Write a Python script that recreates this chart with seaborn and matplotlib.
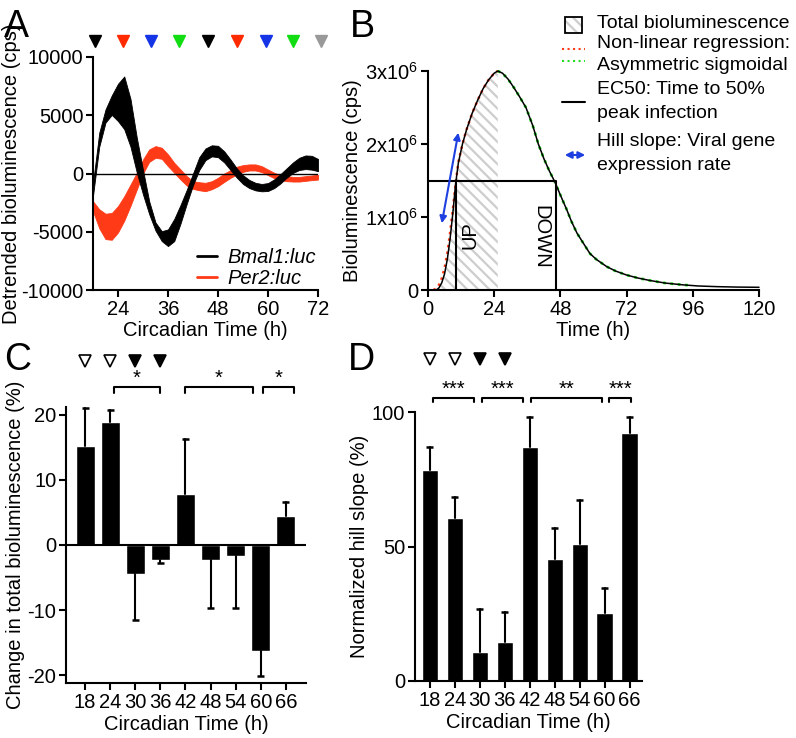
#!/usr/bin/env python3
"""Circadian bioluminescence figure (panels A-D) redrawn with matplotlib + seaborn."""

import matplotlib

matplotlib.use("Agg")
import matplotlib.pyplot as plt
import seaborn as sns
from matplotlib.lines import Line2D
from matplotlib.patches import FancyArrowPatch, Rectangle

# ---- Panel A: detrended bioluminescence, upper / lower edge of each band ----
A_TIME = [18, 19.5, 21, 22.5, 24, 25.5, 27, 28.5, 30, 31.5, 33, 34.5, 36, 37.5, 39,
          40.5, 42, 43.5, 45, 46.5, 48, 49.5, 51, 52.5, 54, 55.5, 57, 58.5, 60,
          61.5, 63, 64.5, 66, 67.5, 69, 70.5, 72]
BMAL_HI = [-800, 3500, 5500, 6700, 7700, 8330, 6400, 3100, 300, -2400, -4200, -4950,
           -4800, -3900, -2700, -1400, 0, 1400, 2150, 2420, 2380, 1900, 1200, 450,
           -150, -550, -800, -900, -820, -500, -50, 450, 950, 1350, 1550, 1520, 1250]
BMAL_LO = [-1900, 2300, 4370, 5030, 4500, 3800, 2300, 100, -1800, -3500, -4900, -5800,
           -6230, -5800, -4300, -2600, -1000, 300, 1150, 1470, 1400, 950, 300, -350,
           -900, -1250, -1450, -1530, -1500, -1250, -850, -350, 50, 300, 380, 330, 200]
PER_HI = [-2380, -3070, -3450, -3390, -2800, -1950, -950, 60, 1200, 2070, 2350, 2210,
          1640, 920, 350, -230, -660, -750, -800, -660, -370, 0, 290, 580, 720, 780,
          780, 630, 340, 60, -140, -230, -290, -290, -230, -170, -110]
PER_LO = [-3250, -4700, -5630, -5690, -5060, -4050, -2770, -1380, 0, 1000, 1350, 1260,
          630, 60, -520, -1030, -1320, -1440, -1520, -1350, -1090, -720, -370, -90,
          140, 260, 260, 120, -140, -400, -570, -660, -690, -690, -630, -570, -520]
MARKER_TIMES = [18.5, 25.2, 32.0, 38.7, 45.6, 52.6, 59.4, 66.1, 72.8]
MARKER_COLORS = ["black", "#ff2a00", "#1434e6", "#12dd12", "black",
                 "#ff2a00", "#1434e6", "#12dd12", "#999999"]

# ---- Panel B: infection time course with asymmetric sigmoidal fits ----
CURVE_T = [3, 4, 5, 6, 7, 8, 9, 10, 11, 12.5, 14, 16, 18, 20, 22, 24, 25.3, 27, 29,
           31, 33, 35.5, 38, 40, 42, 44, 46, 48, 50.3, 52, 54, 56, 58.7, 61, 64.8,
           68, 72, 76, 80.5, 86, 92.6, 98, 104.7, 112, 120]
CURVE_V = [0, 0.03e6, 0.1e6, 0.22e6, 0.42e6, 0.7e6, 1.05e6, 1.45e6, 1.74e6, 2.0e6,
           2.2e6, 2.42e6, 2.6e6, 2.76e6, 2.88e6, 2.97e6, 3.0e6, 2.97e6, 2.89e6,
           2.78e6, 2.66e6, 2.5e6, 2.25e6, 2.0e6, 1.8e6, 1.63e6, 1.48e6, 1.3e6, 1.1e6,
           0.94e6, 0.78e6, 0.66e6, 0.5e6, 0.42e6, 0.32e6, 0.26e6, 0.205e6, 0.165e6,
           0.13e6, 0.095e6, 0.07e6, 0.055e6, 0.046e6, 0.04e6, 0.037e6]
FIT_UP_T = [2, 3, 4, 5, 6, 7, 8, 9, 10, 11, 12.5, 14, 16, 18, 20, 22, 24, 25.3]
FIT_UP_V = [0, 0.02e6, 0.07e6, 0.16e6, 0.3e6, 0.5e6, 0.78e6, 1.1e6, 1.45e6, 1.75e6,
            2.0e6, 2.2e6, 2.42e6, 2.6e6, 2.76e6, 2.88e6, 2.97e6, 3.0e6]
FIT_DOWN_T = [25.3, 27, 29, 31, 33, 35.5, 38, 40, 42, 44, 46, 48, 50.3, 52, 54, 56,
              58.7, 61, 64.8, 68, 72, 76, 80.5, 86, 92.6, 95]
FIT_DOWN_V = [3.0e6, 2.97e6, 2.89e6, 2.78e6, 2.66e6, 2.5e6, 2.25e6, 2.0e6, 1.8e6,
              1.63e6, 1.48e6, 1.3e6, 1.1e6, 0.94e6, 0.78e6, 0.66e6, 0.5e6, 0.42e6,
              0.32e6, 0.26e6, 0.205e6, 0.165e6, 0.13e6, 0.095e6, 0.07e6, 0.064e6]
PEAK_T = 25.3
HALF_MAX = 1.5e6
EC50_UP = 10.1
EC50_DOWN = 46.4
HILL_ARROW = [(5.0, 0.914e6), (11.0, 2.155e6)]

# ---- Panels C and D ----
CT_LABELS = ["18", "24", "30", "36", "42", "48", "54", "60", "66"]
C_VALUES = [15.2, 18.9, -4.5, -2.3, 7.8, -2.3, -1.7, -16.3, 4.5]
C_ERRORS = [5.9, 1.9, 7.0, 0.5, 8.5, 7.4, 8.0, 3.9, 2.1]
D_VALUES = [78.4, 60.6, 10.8, 14.5, 87.0, 45.3, 50.9, 25.2, 92.2]
D_ERRORS = [8.6, 7.8, 15.9, 11.3, 11.0, 11.7, 16.4, 9.4, 5.8]
TRIANGLE_FILLED = [False, False, True, True]
C_BRACKETS = [(1.15, 2.98, "*"), (3.97, 6.67, "*"), (7.07, 8.33, "*")]
D_BRACKETS = [(0.12, 1.77, "***"), (2.09, 3.73, "***"), (4.06, 6.9, "**"),
              (7.19, 8.07, "***")]

RED = "#ff3a17"
BLUE = "#1f40e0"
GREEN = "#22dd22"
HATCH_GRAY = "#cdcdcd"
FS = 14.5

W, H = 796, 738


def fx(px):
    return px / W


def fy(py):
    return 1 - py / H


def box(left, top, right, bottom):
    return [fx(left), fy(bottom), (right - left) / W, (bottom - top) / H]


sns.set_theme(style="ticks")
plt.rcParams.update(
    {
        "font.family": ["Liberation Sans", "DejaVu Sans"],
        "font.size": FS,
        "axes.labelsize": FS,
        "xtick.labelsize": FS,
        "ytick.labelsize": FS,
        "axes.linewidth": 1.5,
        "axes.edgecolor": "black",
        "axes.labelcolor": "black",
        "text.color": "black",
        "xtick.color": "black",
        "ytick.color": "black",
        "xtick.major.width": 1.5,
        "ytick.major.width": 1.5,
        "xtick.major.size": 5,
        "ytick.major.size": 5,
        "xtick.major.pad": 2,
        "ytick.major.pad": 2,
        "axes.labelpad": 2,
        "axes.unicode_minus": False,
        "mathtext.default": "regular",
        "hatch.linewidth": 1.6,
    }
)

fig = plt.figure(figsize=(W / 100, H / 100), dpi=100)

# ---------------- Panel A ----------------
ax_a = fig.add_axes(box(93, 57, 318, 290))
ax_a.fill_between(A_TIME, PER_LO, PER_HI, color=RED, lw=0.6)
ax_a.fill_between(A_TIME, BMAL_LO, BMAL_HI, color="black", lw=0.6)
ax_a.axhline(0, color="black", lw=1, zorder=3)
ax_a.set_xlim(18, 72)
ax_a.set_ylim(-10000, 10000)
ax_a.set_xticks([24, 36, 48, 60, 72])
ax_a.set_yticks([-10000, -5000, 0, 5000, 10000])
ax_a.set_xlabel("Circadian Time (h)")
ax_a.set_ylabel("Detrended bioluminescence (cps)", labelpad=0)
sns.despine(ax=ax_a)
for t, c in zip(MARKER_TIMES, MARKER_COLORS):
    ax_a.plot(t, 11400, marker="v", ms=8.5, color=c, clip_on=False, ls="none")
ax_a.legend(
    handles=[Line2D([], [], color="black", lw=2), Line2D([], [], color=RED, lw=2)],
    labels=["Bmal1:luc", "Per2:luc"],
    prop={"style": "italic", "size": FS},
    frameon=False,
    loc="lower right",
    handlelength=1.0,
    handletextpad=0.5,
    labelspacing=0.1,
    borderaxespad=0.1,
    borderpad=0,
)

# ---------------- Panel B ----------------
ax_b = fig.add_axes(box(428, 71, 759, 290))
up_t = [t for t in CURVE_T if t <= PEAK_T]
up_v = [v for t, v in zip(CURVE_T, CURVE_V) if t <= PEAK_T]
ax_b.fill_between(up_t, 0, up_v, facecolor="white", edgecolor=HATCH_GRAY,
                  hatch="\\\\\\", linewidth=0)
sns.lineplot(x=FIT_UP_T, y=FIT_UP_V, ax=ax_b, color=RED, lw=1.8, linestyle=":",
             clip_on=False)
sns.lineplot(x=FIT_DOWN_T, y=FIT_DOWN_V, ax=ax_b, color=GREEN, lw=2.0, linestyle=":",
             clip_on=False)
sns.lineplot(x=CURVE_T, y=CURVE_V, ax=ax_b, color="black", lw=1.1, clip_on=False)
ax_b.plot([0, EC50_DOWN], [HALF_MAX, HALF_MAX], color="black", lw=1.5)
ax_b.vlines([EC50_UP, EC50_DOWN], 0, HALF_MAX, color="black", lw=1.5)
ax_b.annotate(
    "", xy=HILL_ARROW[1], xytext=HILL_ARROW[0],
    arrowprops=dict(arrowstyle="<|-|>", color=BLUE, lw=1.5, mutation_scale=10,
                    shrinkA=0, shrinkB=0),
)
ax_b.text(15.2, 0.75e6, "UP", rotation=90, ha="center", va="center")
ax_b.text(40.8, 0.73e6, "DOWN", rotation=270, ha="center", va="center")
ax_b.set_xlim(0, 120)
ax_b.set_ylim(0, 3e6)
ax_b.set_xticks([0, 24, 48, 72, 96, 120])
ax_b.set_yticks([0, 1e6, 2e6, 3e6])
ax_b.set_yticklabels(["0", "1x10$^{6}$", "2x10$^{6}$", "3x10$^{6}$"])
ax_b.set_xlabel("Time (h)")
ax_b.set_ylabel("Bioluminescence (cps)")
sns.despine(ax=ax_b)

# legend for B, drawn by hand
sq = [fx(565), fy(33)]
fig.add_artist(Rectangle(sq, 17 / W, 16 / H, transform=fig.transFigure,
                         facecolor="white", edgecolor=HATCH_GRAY, lw=0, hatch="\\\\\\"))
fig.add_artist(Rectangle(sq, 17 / W, 16 / H, transform=fig.transFigure,
                         facecolor="none", edgecolor="black", lw=1.3))
fig.add_artist(Line2D([fx(562), fx(585)], [fy(49), fy(49)], color=RED, lw=1.5, ls=":"))
fig.add_artist(Line2D([fx(562), fx(585)], [fy(61), fy(61)], color=GREEN, lw=1.5, ls=":"))
fig.add_artist(Line2D([fx(562), fx(585)], [fy(102), fy(102)], color="black", lw=1.5))
fig.add_artist(FancyArrowPatch(
    (fx(562), fy(155)), (fx(588), fy(155)), transform=fig.transFigure,
    arrowstyle="<|-|>", color=BLUE, lw=1.5, mutation_scale=10))
for ypx, txt in [(24, "Total bioluminescence"), (43, "Non-linear regression:"),
                 (66, "Asymmetric sigmoidal"), (89, "EC50: Time to 50%"),
                 (113, "peak infection"), (142, "Hill slope: Viral gene"),
                 (165, "expression rate")]:
    fig.text(fx(597), fy(ypx), txt, ha="left", va="center", fontsize=14)


def bar_panel(ax, values, errors, width, brackets, bracket_y, tick_y, star_y, tri_y):
    sns.barplot(x=CT_LABELS, y=values, order=CT_LABELS, color="black", width=width,
                saturation=1, errorbar=None, ax=ax)
    # one-sided error bars pointing away from zero
    cap = 0.14
    for i, (v, e) in enumerate(zip(values, errors)):
        end = v + e if v >= 0 else v - e
        ax.plot([i, i], [v, end], color="black", lw=1.5, clip_on=False)
        ax.plot([i - cap, i + cap], [end, end], color="black", lw=1.8, clip_on=False,
                solid_capstyle="butt")
    for x0, x1, stars in brackets:
        ax.plot([x0, x0, x1, x1], [tick_y, bracket_y, bracket_y, tick_y],
                color="black", lw=1.5, clip_on=False)
        ax.text((x0 + x1) / 2, star_y, stars, ha="center", va="center", fontsize=FS)
    for i, filled in enumerate(TRIANGLE_FILLED):
        ax.plot(i, tri_y, marker="v", ms=8.5, mec="black", mew=1.2,
                mfc="black" if filled else "white", clip_on=False, ls="none")
    ax.set_xlabel("Circadian Time (h)")
    sns.despine(ax=ax)


# ---------------- Panel C ----------------
ax_c = fig.add_axes(box(66, 407, 306, 683))
bar_panel(ax_c, C_VALUES, C_ERRORS, 0.76, C_BRACKETS, 24.2, 23.4, 25.6, 28.2)
ax_c.axhline(0, color="black", lw=1.5)
ax_c.set_xlim(-0.76, 8.8)
ax_c.set_ylim(-21.2, 21.2)
ax_c.set_yticks([-20, -10, 0, 10, 20])
ax_c.set_ylabel("Change in total bioluminescence (%)")

# ---------------- Panel D ----------------
ax_d = fig.add_axes(box(415, 412, 642, 681))
bar_panel(ax_d, D_VALUES, D_ERRORS, 0.65, D_BRACKETS, 105.2, 103.7, 108.5, 119.7)
ax_d.set_xlim(-0.6, 8.5)
ax_d.set_ylim(0, 100)
ax_d.set_yticks([0, 50, 100])
ax_d.set_ylabel("Normalized hill slope (%)")

for label, xpx, ypx in [("A", 4, 37), ("B", 350, 37), ("C", 4, 370), ("D", 348, 370)]:
    fig.text(fx(xpx), fy(ypx), label, fontsize=27, va="baseline", ha="left")

fig.savefig("out.png", dpi=100)
plt.close(fig)
